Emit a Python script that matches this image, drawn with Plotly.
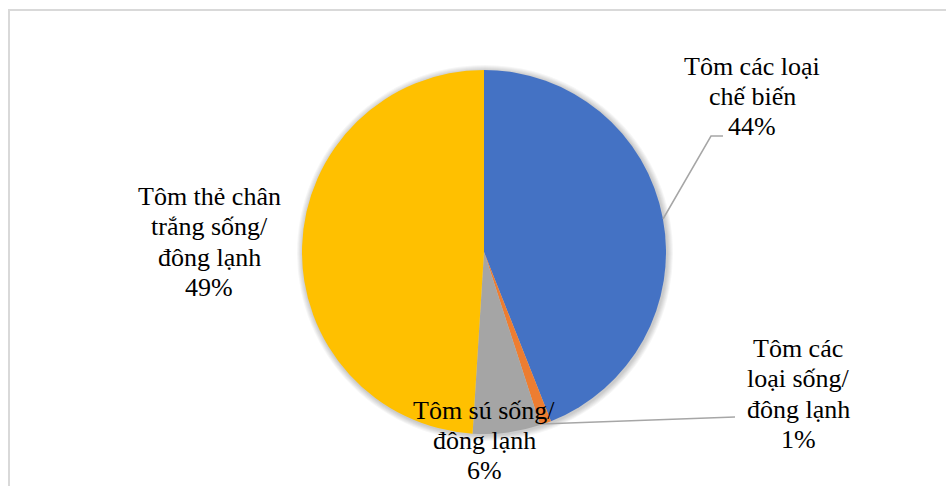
import plotly.graph_objects as go

# Shrimp export structure (share of value, %)
categories = [
    "Tôm các loại chế biến",
    "Tôm các loại sống/đông lạnh",
    "Tôm sú sống/đông lạnh",
    "Tôm thẻ chân trắng sống/đông lạnh",
]
shares = [44, 1, 6, 49]
colors = ["#4472C4", "#ED7D31", "#A5A5A5", "#FFC000"]

# Label text broken into lines as displayed
label_lines = [
    ["Tôm các loại", "chế biến"],
    ["Tôm các", "loại sống/", "đông lạnh"],
    ["Tôm sú sống/", "đông lạnh"],
    ["Tôm thẻ chân", "trắng sống/", "đông lạnh"],
]

W, H = 946, 486


def px(x):
    return x / W


def py(y):
    return (H - y) / H


cx, cy, r = 484, 252, 182

fig = go.Figure()

# soft outer shadow rings behind the pie
for k in range(6, 0, -1):
    rr = r + k
    fig.add_trace(go.Pie(
        values=[1], labels=["shadow"],
        marker=dict(colors=["rgba(0,0,0,0.035)"], line=dict(width=0)),
        textinfo="none", hoverinfo="skip", showlegend=False, sort=False,
        domain=dict(x=[px(cx - rr + 1), px(cx + rr + 1)], y=[py(cy + rr + 1), py(cy - rr + 1)]),
    ))

fig.add_trace(go.Pie(
    labels=categories,
    values=shares,
    marker=dict(colors=colors, line=dict(width=0)),
    sort=False,
    direction="clockwise",
    rotation=0,
    textinfo="none",
    hoverinfo="label+percent",
    showlegend=False,
    domain=dict(x=[px(cx - r), px(cx + r)], y=[py(cy + r), py(cy - r)]),
))

# label placement: (centre x, first line y, line gap) in pixels
label_pos = [(752, 66, 30.5), (798, 348, 30.5), (484, 410, 30), (209, 196, 30.5)]
font = dict(family="Liberation Serif", size=26, color="#000000")
annotations = []
for lines, v, (lx, ly, gap) in zip(label_lines, shares, label_pos):
    for i, t in enumerate(lines + [f"{v}%"]):
        annotations.append(dict(
            x=px(lx), y=py(ly + i * gap), xref="paper", yref="paper",
            text=t, showarrow=False, font=font,
            xanchor="center", yanchor="middle", align="center",
        ))


def path(points):
    return "M " + " L ".join(f"{px(x)},{py(y)}" for x, y in points)


shapes = [
    # chart frame
    dict(type="rect", xref="paper", yref="paper",
         x0=px(9), x1=1.05, y0=-0.05, y1=py(10),
         line=dict(color="#D9D9D9", width=2), fillcolor="rgba(0,0,0,0)"),
    # leader lines
    dict(type="path", xref="paper", yref="paper",
         path=path([(723, 136), (711, 136), (663, 219)]),
         line=dict(color="#A6A6A6", width=1.5)),
    dict(type="path", xref="paper", yref="paper",
         path=path([(735, 417), (541, 424)]),
         line=dict(color="#A6A6A6", width=1.5)),
]

fig.update_layout(
    width=W, height=H,
    margin=dict(l=0, r=0, t=0, b=0),
    paper_bgcolor="white", plot_bgcolor="white",
    annotations=annotations,
    shapes=shapes,
)

fig.write_html("out.html")
